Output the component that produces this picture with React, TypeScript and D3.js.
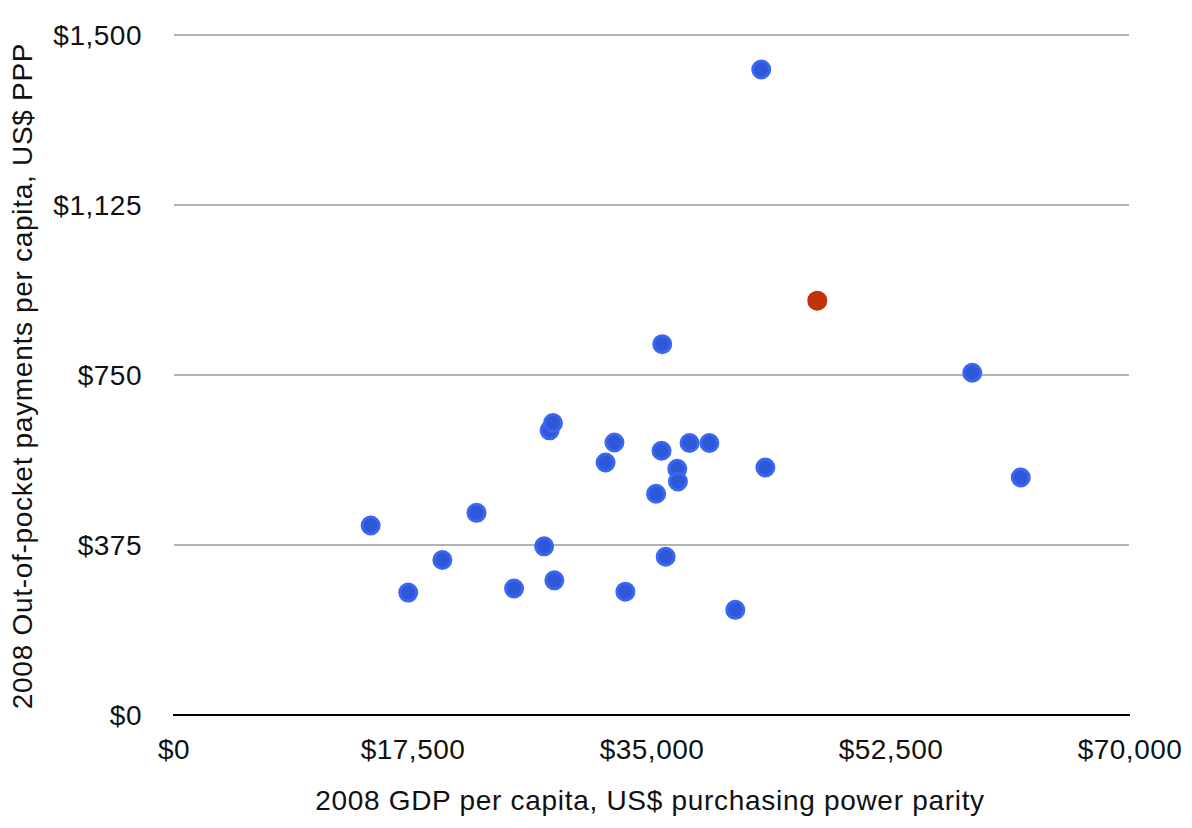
import React, { useRef, useEffect } from 'react';
import * as d3 from 'd3';

// 2008 GDP per capita (US$ PPP) vs out-of-pocket payments per capita (US$ PPP)
const gdpPerCapita = [
  14400, 17150, 19650, 22150, 24900, 27100, 27500, 27750, 27850, 31600,
  32250, 33050, 35300, 35700, 35750, 36000, 36850, 36900, 37750, 39200,
  41100, 43000, 43300, 58450, 62000,
];
const outOfPocket = [
  418, 270, 342, 446, 279, 372, 628, 644, 297, 557,
  601, 272, 488, 583, 818, 349, 543, 515, 600, 600,
  232, 1424, 546, 755, 524,
];
const highlightGdp = [47100];
const highlightOop = [914];

const xTicks = [0, 17500, 35000, 52500, 70000];
const yTicks = [0, 375, 750, 1125, 1500];

const xTitle = '2008 GDP per capita, US$ purchasing power parity';
const yTitle = '2008 Out-of-pocket payments per capita, US$ PPP';

const App = () => {
  const chartRef = useRef(null);

  useEffect(() => {
    const svg = d3.select(chartRef.current);
    svg.selectAll('*').remove();
    const margin = { top: 35, right: 62, bottom: 113, left: 174 };
    const width = 1192;
    const height = 828;
    const chartWidth = width - margin.left - margin.right;
    const chartHeight = height - margin.top - margin.bottom;
    const font = '"Liberation Sans", Arial, Helvetica, sans-serif';
    const fontSize = 28;
    const money = d3.format('$,');

    const xScale = d3.scaleLinear().domain([0, 70000]).range([0, chartWidth]);
    const yScale = d3.scaleLinear().domain([0, 1500]).range([chartHeight, 0]);

    const chart = svg.append('g')
      .attr('transform', `translate(${margin.left},${margin.top})`);

    // gridlines
    chart.selectAll('line.grid')
      .data(yTicks.filter((d) => d > 0))
      .enter()
      .append('line')
      .attr('class', 'grid')
      .attr('x1', 0)
      .attr('x2', chartWidth - 1)
      .attr('y1', (d) => yScale(d))
      .attr('y2', (d) => yScale(d))
      .attr('stroke', '#b3b3b3')
      .attr('stroke-width', 2);

    // y tick labels
    chart.selectAll('text.ytick')
      .data(yTicks)
      .enter()
      .append('text')
      .attr('class', 'ytick')
      .attr('x', -32)
      .attr('y', (d) => yScale(d))
      .attr('dy', '0.35em')
      .attr('text-anchor', 'end')
      .attr('font-family', font)
      .attr('font-size', fontSize)
      .attr('letter-spacing', 0.5)
      .attr('fill', '#111')
      .text((d) => money(d));

    // x tick labels
    chart.selectAll('text.xtick')
      .data(xTicks)
      .enter()
      .append('text')
      .attr('class', 'xtick')
      .attr('x', (d) => xScale(d))
      .attr('y', chartHeight + 44)
      .attr('text-anchor', 'middle')
      .attr('font-family', font)
      .attr('font-size', fontSize)
      .attr('letter-spacing', 0.5)
      .attr('fill', '#111')
      .text((d) => money(d));

    // baseline
    chart.append('line')
      .attr('x1', -1)
      .attr('x2', chartWidth)
      .attr('y1', chartHeight)
      .attr('y2', chartHeight)
      .attr('stroke', '#000')
      .attr('stroke-width', 2);

    const points = gdpPerCapita.map((g, i) => ({ x: g, y: outOfPocket[i] }));
    chart.selectAll('circle.pt')
      .data(points)
      .enter()
      .append('circle')
      .attr('class', 'pt')
      .attr('cx', (d) => xScale(d.x))
      .attr('cy', (d) => yScale(d.y))
      .attr('r', 8.5)
      .attr('fill', '#2f58d9')
      .attr('stroke', '#3a67f2')
      .attr('stroke-width', 3);

    const hl = highlightGdp.map((g, i) => ({ x: g, y: highlightOop[i] }));
    chart.selectAll('circle.hl')
      .data(hl)
      .enter()
      .append('circle')
      .attr('class', 'hl')
      .attr('cx', (d) => xScale(d.x))
      .attr('cy', (d) => yScale(d.y))
      .attr('r', 10)
      .attr('fill', '#c23208');

    // axis titles
    svg.append('text')
      .attr('x', 650)
      .attr('y', 810)
      .attr('text-anchor', 'middle')
      .attr('font-family', font)
      .attr('font-size', fontSize)
      .attr('letter-spacing', 0.7)
      .attr('fill', '#111')
      .text(xTitle);

    svg.append('text')
      .attr('transform', 'translate(32,376) rotate(-90)')
      .attr('text-anchor', 'middle')
      .attr('font-family', font)
      .attr('font-size', fontSize)
      .attr('letter-spacing', 0.7)
      .attr('fill', '#111')
      .text(yTitle);
  }, []);

  return (
    <svg ref={chartRef} width="1192" height="828" style={{ position: 'absolute', left: 0, top: 0, background: '#fff' }}></svg>
  );
};

export default App;
